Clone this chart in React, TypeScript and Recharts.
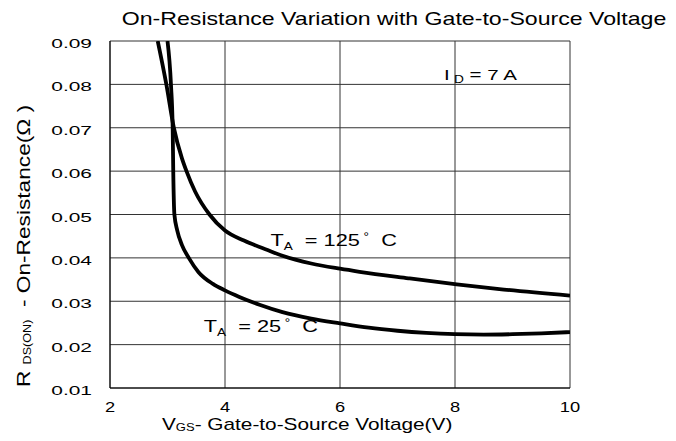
import React from "react";
import {
  LineChart,
  Line,
  XAxis,
  YAxis,
  CartesianGrid,
  ReferenceDot,
  Customized,
} from "recharts";

// values (VGS in V, RDS(on) in ohm)
const vgs25 = [3.0, 3.06, 3.09, 3.1, 3.12, 3.17, 3.25, 3.37, 3.54, 3.79, 4.0, 4.25, 4.6, 5.0, 5.5, 6.0, 6.5, 7.0, 7.5, 8.0, 8.5, 9.0, 9.5, 10];
const rds25 = [0.09, 0.08, 0.07, 0.06, 0.05, 0.0463, 0.043, 0.04, 0.0367, 0.034, 0.0325, 0.031, 0.0292, 0.0275, 0.026, 0.0249, 0.0239, 0.0232, 0.0227, 0.0224, 0.0223, 0.0224, 0.0226, 0.0229];

const vgs125 = [2.83, 2.98, 3.11, 3.25, 3.33, 3.48, 3.73, 4.0, 4.33, 4.74, 5.0, 5.5, 6.0, 6.34, 7.19, 8.03, 8.85, 10];
const rds125 = [0.09, 0.08, 0.07, 0.063, 0.06, 0.0553, 0.05, 0.0463, 0.044, 0.0418, 0.0405, 0.0387, 0.0375, 0.0368, 0.0353, 0.0339, 0.0327, 0.0313];

const xTicks = [2, 4, 6, 8, 10];
const yTicks = [0.01, 0.02, 0.03, 0.04, 0.05, 0.06, 0.07, 0.08, 0.09];

const data25 = vgs25.map((v, i) => ({ vgs: v, rds: rds25[i] }));
const data125 = vgs125.map((v, i) => ({ vgs: v, rds: rds125[i] }));

const FONT = "'Liberation Sans', Arial, sans-serif";

// datasheet text is horizontally stretched, so scale glyphs along x
function SText({ x, y, sx, size, anchor = "start", rotate = 0, children }: any) {
  return (
    <g transform={`translate(${x},${y}) rotate(${rotate}) scale(${sx},1)`}>
      <text
        x={0}
        y={0}
        textAnchor={anchor}
        fontFamily={FONT}
        fontSize={size}
        fill="#000"
        style={{ whiteSpace: "pre" }}
      >
        {children}
      </text>
    </g>
  );
}

const YTick = ({ x, y, payload }: any) => (
  <SText x={x} y={y + 7} sx={1.55} size={13.5} anchor="end">
    {payload.value.toFixed(2)}
  </SText>
);

const XTick = ({ x, y, payload }: any) => (
  <SText x={x} y={y + 24} sx={1.22} size={15} anchor="middle">
    {String(payload.value)}
  </SText>
);

const TempLabel = (temp: string) => (p: any) => (
  <SText x={p.cx} y={p.cy} sx={1.36} size={16}>
    T<tspan fontSize={10} dy={4}>A</tspan>
    <tspan fontSize={16} dy={-4}>{"  = " + temp}</tspan>
    <tspan fontSize={10} dy={-6}>{" °"}</tspan>
    <tspan fontSize={16} dy={6}>{"  C"}</tspan>
  </SText>
);

const IdLabel = (p: any) => (
  <SText x={p.cx} y={p.cy} sx={1.37} size={15}>
    I<tspan fontSize={10} dy={3} dx={3}>D</tspan>
    <tspan fontSize={15} dy={-3}>{" = 7 A"}</tspan>
  </SText>
);

const Texts = () => (
  <g>
    <SText x={386} y={17} sx={1.25} size={18.5} anchor="middle">
      On-Resistance Variation with Gate-to-Source Voltage
    </SText>
    <SText x={154} y={422} sx={1.3} size={16}>
      V<tspan fontSize={10} dy={1}>GS</tspan>
      <tspan fontSize={16} dy={-1}>- Gate-to-Source Voltage(V)</tspan>
    </SText>
    <SText x={22} y={238} sx={1.26} size={18} anchor="middle" rotate={-90}>
      {"R "}
      <tspan fontSize={10} dy={1}>DS(ON)</tspan>
      <tspan fontSize={18} dy={-1}>{"  - On-Resistance(Ω )"}</tspan>
    </SText>
  </g>
);

export default function App() {
  return (
    <div style={{ width: 668, height: 433, background: "#fff" }}>
      <LineChart width={668} height={433} margin={{ top: 33, right: 106, bottom: 0, left: 0 }}>
        <CartesianGrid stroke="#333" strokeWidth={1} />
        <XAxis
          type="number"
          dataKey="vgs"
          domain={[2, 10]}
          ticks={xTicks}
          height={53}
          tickLine={false}
          tickSize={0}
          tickMargin={0}
          axisLine={{ stroke: "#000" }}
          tick={<XTick />}
          allowDataOverflow
        />
        <YAxis
          type="number"
          dataKey="rds"
          domain={[0.01, 0.09]}
          ticks={yTicks}
          width={102}
          tickLine={false}
          tickSize={0}
          tickMargin={18}
          axisLine={{ stroke: "#000" }}
          tick={<YTick />}
          allowDataOverflow
        />
        <Line
          data={data125}
          dataKey="rds"
          type="monotone"
          stroke="#000"
          strokeWidth={3.8}
          dot={false}
          isAnimationActive={false}
        />
        <Line
          data={data25}
          dataKey="rds"
          type="monotone"
          stroke="#000"
          strokeWidth={3.8}
          dot={false}
          isAnimationActive={false}
        />
        <ReferenceDot x={7.81} y={0.0811} r={0} shape={IdLabel} />
        <ReferenceDot x={4.79} y={0.0428} r={0} shape={TempLabel("125")} />
        <ReferenceDot x={3.63} y={0.023} r={0} shape={TempLabel("25")} />
        <Customized component={<Texts />} />
      </LineChart>
    </div>
  );
}
